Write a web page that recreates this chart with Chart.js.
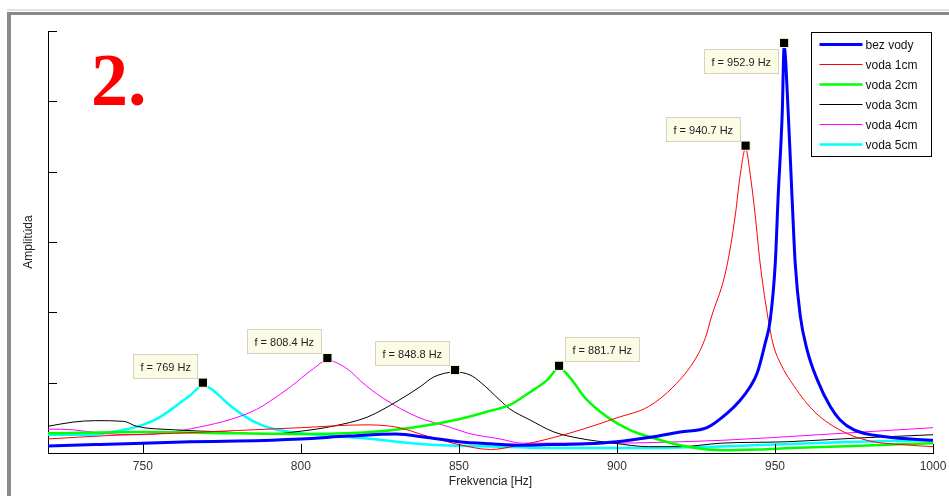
<!DOCTYPE html>
<html>
<head>
<meta charset="utf-8">
<script src="https://cdn.jsdelivr.net/npm/chart.js@4.4.1/dist/chart.umd.min.js"></script>
<style>
  html, body { margin: 0; padding: 0; background: #fff; }
  canvas { display: block; }
</style>
</head>
<body>
<canvas id="rezonancia" width="949" height="496"></canvas>
<script>
// frekvencie [Hz] a amplitudy odcitane z grafu
const seriesNames = ['bez vody', 'voda 1cm', 'voda 2cm', 'voda 3cm', 'voda 4cm', 'voda 5cm'];

const blueHz = [720, 735, 750, 765, 780, 800, 815, 830, 840, 850, 860, 870, 880, 890, 900, 910, 920, 928.5, 935, 939, 942, 944.4, 946.9, 948.5, 950.1, 951, 952.3, 952.9, 954.2, 955.4, 956.4, 958, 960.2, 963.4, 967.5, 970.6, 975, 985, 1000];
const blueAmp = [0.10, 0.12, 0.14, 0.16, 0.17, 0.20, 0.24, 0.27, 0.22, 0.16, 0.13, 0.11, 0.12, 0.13, 0.16, 0.22, 0.30, 0.36, 0.57, 0.75, 0.93, 1.14, 1.56, 1.89, 2.70, 3.64, 4.83, 5.78, 4.83, 3.64, 2.70, 1.95, 1.46, 1.04, 0.66, 0.47, 0.33, 0.23, 0.18];

const redHz = [720, 740, 760, 780, 800, 820, 830, 840, 850, 860, 868, 880, 890, 900, 910, 918, 925, 928, 930, 934, 936, 937.5, 939, 940.7, 942.2, 943.7, 945.3, 947.5, 949.4, 952, 955, 962, 970, 980, 990, 1000];
const redAmp = [0.20, 0.25, 0.28, 0.32, 0.36, 0.40, 0.37, 0.24, 0.12, 0.05, 0.10, 0.22, 0.35, 0.50, 0.66, 0.95, 1.35, 1.64, 1.95, 2.50, 2.95, 3.40, 3.95, 4.33, 3.95, 3.40, 2.70, 2.00, 1.55, 1.25, 1.02, 0.61, 0.34, 0.17, 0.12, 0.09];

const greenHz = [720, 750, 780, 800, 820, 835, 850, 860, 866, 872, 878, 881.7, 885, 890, 897, 904, 911, 920, 933, 945, 955, 975, 1000];
const greenAmp = [0.28, 0.30, 0.28, 0.27, 0.29, 0.36, 0.48, 0.60, 0.68, 0.85, 1.04, 1.21, 1.08, 0.78, 0.51, 0.33, 0.22, 0.11, 0.04, 0.05, 0.07, 0.10, 0.14];

const blackHz = [720, 728, 735, 744, 748, 760, 775, 790, 800, 810, 821, 831, 838, 842, 848.8, 853.5, 857, 863, 866, 872.5, 880, 888, 899, 910, 920, 933, 954, 975, 1000];
const blackAmp = [0.38, 0.44, 0.46, 0.45, 0.38, 0.33, 0.30, 0.27, 0.31, 0.38, 0.51, 0.75, 0.95, 1.08, 1.15, 1.11, 1.00, 0.75, 0.63, 0.47, 0.30, 0.21, 0.14, 0.09, 0.09, 0.14, 0.16, 0.21, 0.26];

const magentaHz = [720, 728, 737, 749, 758, 768, 778, 786, 790, 797, 800, 804, 808.4, 812, 816, 819, 826, 837, 847, 853, 863, 870, 885, 900, 912, 933, 964, 1000];
const magentaAmp = [0.34, 0.33, 0.28, 0.26, 0.29, 0.37, 0.48, 0.62, 0.73, 0.95, 1.06, 1.20, 1.32, 1.27, 1.15, 1.02, 0.78, 0.51, 0.37, 0.28, 0.20, 0.14, 0.14, 0.14, 0.15, 0.18, 0.26, 0.36];

const cyanHz = [720, 733, 744, 750, 755, 759, 762, 765, 769, 772, 775, 778, 781, 785, 790, 800, 820, 840, 863, 884, 910, 943, 975, 1000];
const cyanAmp = [0.26, 0.26, 0.33, 0.40, 0.50, 0.62, 0.72, 0.82, 0.96, 0.90, 0.78, 0.66, 0.56, 0.45, 0.36, 0.28, 0.21, 0.12, 0.09, 0.07, 0.07, 0.11, 0.16, 0.18];

// vrcholy (data tipy)
const peakHz = [952.9, 940.7, 881.7, 848.8, 808.4, 769];
const peakAmp = [5.83, 4.37, 1.24, 1.18, 1.35, 1.0];

const xTicks = [750, 800, 850, 900, 950, 1000];
const yTicks = [0, 1, 2, 3, 4, 5, 6];

// styly
const colors = ['#0000ff', '#ff0000', '#00ff00', '#000000', '#ff00ff', '#00ffff'];
const widths = [3, 1, 2.5, 1, 1, 2.5];
// kde je tip voci bodu: [vodorovne, zvisle]
const tipSide = [['left', 'below'], ['left', 'above'], ['right', 'above'], ['left', 'above'], ['left', 'above'], ['left', 'above']];

const toPoints = (xs, ys) => xs.map((v, i) => ({ x: v, y: ys[i] }));
const allHz = [blueHz, redHz, greenHz, blackHz, magentaHz, cyanHz];
const allAmp = [blueAmp, redAmp, greenAmp, blackAmp, magentaAmp, cyanAmp];

const datasets = seriesNames.map((name, i) => ({
  label: name,
  data: toPoints(allHz[i], allAmp[i]),
  borderColor: colors[i],
  backgroundColor: colors[i],
  borderWidth: widths[i],
  pointRadius: 0,
  cubicInterpolationMode: 'monotone',
  fill: false
}));

datasets.push({
  label: 'vrcholy',
  data: toPoints(peakHz, peakAmp),
  showLine: false,
  pointStyle: 'rect',
  pointRadius: 6.5,
  backgroundColor: '#000',
  borderColor: '#ffffd8',
  borderWidth: 1,
  order: -1
});

const frame = {
  id: 'frame',
  beforeDraw(chart) {
    const c = chart.ctx;
    c.save();
    c.fillStyle = '#fff';
    c.fillRect(0, 0, chart.width, chart.height);
    c.fillStyle = '#e2e2e2';
    c.fillRect(7, 9, chart.width, 2);
    c.fillStyle = '#8a8a8a';
    c.fillRect(7, 12, chart.width - 7, 3);
    c.fillRect(7, 12, 4, chart.height);
    c.restore();
  }
};

const innerTicks = {
  id: 'innerTicks',
  afterDatasetsDraw(chart) {
    const { ctx, chartArea: a, scales: { x, y } } = chart;
    ctx.save();
    ctx.strokeStyle = '#000';
    ctx.lineWidth = 1;
    ctx.beginPath();
    x.ticks.forEach(t => {
      const px = Math.round(x.getPixelForValue(t.value)) + 0.5;
      ctx.moveTo(px, a.bottom);
      ctx.lineTo(px, a.bottom - 9);
    });
    y.ticks.forEach(t => {
      if (t.value === 0) return;
      const py = Math.round(y.getPixelForValue(t.value)) + 0.5;
      ctx.moveTo(a.left, py);
      ctx.lineTo(a.left + 9, py);
    });
    ctx.stroke();
    ctx.restore();
  }
};

const extras = {
  id: 'extras',
  afterDraw(chart) {
    const { ctx, chartArea: a } = chart;
    ctx.save();

    // cislo grafu
    ctx.fillStyle = '#ff0000';
    ctx.font = 'bold 74px "Liberation Serif", "Times New Roman", serif';
    ctx.textBaseline = 'alphabetic';
    ctx.textAlign = 'left';
    ctx.fillText('2.', a.left + 43, a.top + 74);

    // data tipy
    const meta = chart.getDatasetMeta(6);
    ctx.font = '11px "Liberation Sans", Arial, sans-serif';
    ctx.textBaseline = 'middle';
    meta.data.forEach((pt, i) => {
      const text = 'f = ' + peakHz[i] + ' Hz';
      const w = Math.round(ctx.measureText(text).width) + 14;
      const h = 24;
      const side = tipSide[i];
      const bx = Math.round(side[0] === 'left' ? pt.x - 6 - w : pt.x + 6) + 0.5;
      const by = Math.round(side[1] === 'above' ? pt.y - 5 - h : pt.y + 6) + 0.5;
      ctx.fillStyle = '#fcfce6';
      ctx.strokeStyle = '#d4d4c2';
      ctx.lineWidth = 1;
      ctx.fillRect(bx, by, w, h);
      ctx.strokeRect(bx, by, w, h);
      ctx.fillStyle = '#222';
      ctx.fillText(text, bx + 7, by + h / 2 + 1);
    });

    // legenda
    const lw = 120, lh = 124;
    const lx = Math.round(a.right - lw - 2) + 0.5, ly = Math.round(a.top + 1) + 0.5;
    ctx.fillStyle = '#fff';
    ctx.fillRect(lx, ly, lw, lh);
    ctx.strokeStyle = '#000';
    ctx.lineWidth = 1;
    ctx.strokeRect(lx, ly, lw, lh);
    ctx.font = '12px "Liberation Sans", Arial, sans-serif';
    ctx.textBaseline = 'middle';
    chart.data.datasets.slice(0, 6).forEach((ds, i) => {
      const ry = ly + 12 + i * 20;
      ctx.strokeStyle = ds.borderColor;
      ctx.lineWidth = ds.borderWidth;
      ctx.beginPath();
      ctx.moveTo(lx + 8, ry);
      ctx.lineTo(lx + 51, ry);
      ctx.stroke();
      ctx.fillStyle = '#111';
      ctx.fillText(ds.label, lx + 54, ry + 1);
    });
    ctx.restore();
  }
};

new Chart(document.getElementById('rezonancia'), {
  type: 'line',
  data: { datasets },
  plugins: [frame, innerTicks, extras],
  options: {
    responsive: false,
    animation: false,
    devicePixelRatio: 1,
    layout: { padding: { left: 14, top: 31, right: 16, bottom: 0 } },
    plugins: {
      legend: { display: false },
      tooltip: { enabled: false }
    },
    scales: {
      x: {
        type: 'linear',
        min: 720,
        max: 1000,
        afterBuildTicks: s => { s.ticks = xTicks.map(v => ({ value: v })); },
        afterFit: s => { s.height = 43; s.paddingLeft = 0; s.paddingRight = 0; },
        grid: { display: false, drawTicks: false },
        border: { display: true, color: '#000', width: 1 },
        ticks: {
          padding: 6,
          color: '#333',
          maxRotation: 0,
          autoSkip: false,
          callback: v => String(v),
          font: { family: '"Liberation Sans", Arial, sans-serif', size: 12 }
        },
        title: {
          display: true,
          text: 'Frekvencia [Hz]',
          color: '#222',
          padding: { top: 0, bottom: 7 },
          font: { family: '"Liberation Sans", Arial, sans-serif', size: 12 }
        }
      },
      y: {
        type: 'linear',
        min: 0,
        max: 6,
        afterBuildTicks: s => { s.ticks = yTicks.map(v => ({ value: v })); },
        afterFit: s => { s.width = 34; s.paddingTop = 0; s.paddingBottom = 0; },
        grid: { display: false, drawTicks: false },
        border: { display: true, color: '#000', width: 1 },
        ticks: { display: false },
        title: {
          display: true,
          text: 'Amplitúda',
          color: '#222',
          padding: { top: 7, bottom: 0 },
          font: { family: '"Liberation Sans", Arial, sans-serif', size: 12 }
        }
      }
    }
  }
});
</script>
</body>
</html>
